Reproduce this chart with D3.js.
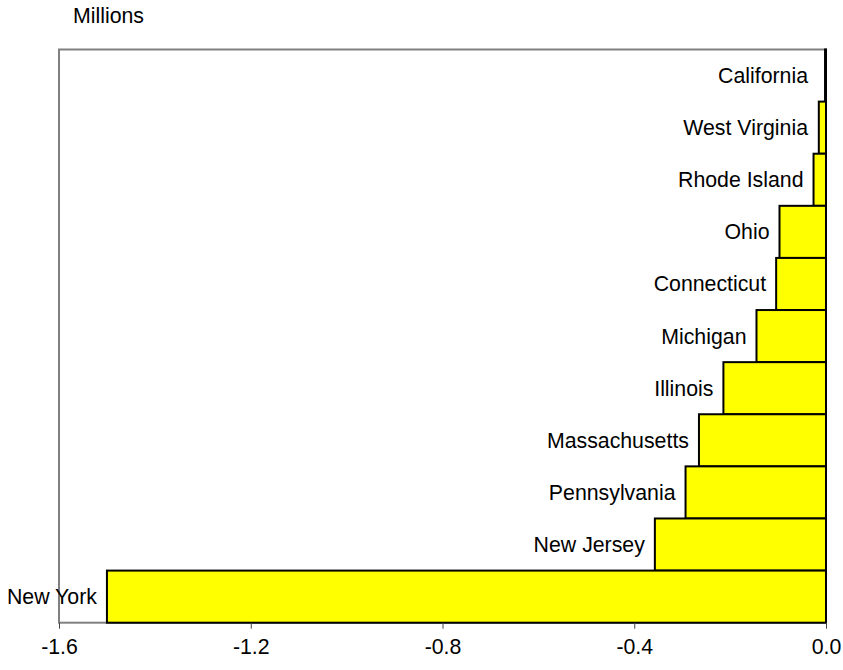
<!DOCTYPE html>
<meta charset="utf-8">
<style>
body { margin: 0; background: #fff; }
text { font-family: "Liberation Sans", Arial, sans-serif; fill: #000; }
</style>
<svg width="843" height="670"></svg>
<script src="https://cdn.jsdelivr.net/npm/d3@7"></script>
<script>

// states, top to bottom
var states = ["California", "West Virginia", "Rhode Island", "Ohio", "Connecticut",
  "Michigan", "Illinois", "Massachusetts", "Pennsylvania", "New Jersey", "New York"];
// change, millions
var values = [-0.002, -0.015, -0.026, -0.097, -0.104, -0.145, -0.214, -0.265, -0.293, -0.357, -1.50];
var xTicks = [-1.6, -1.2, -0.8, -0.4, 0.0];

var svg = d3.select("svg");
var plotLeft = 59, plotRight = 826, plotTop = 49.5, plotBottom = 622.7;
var fontSize = "21.3px";

var x = d3.scaleLinear().domain([-1.6, 0]).range([plotLeft, plotRight]);
var y = d3.scaleBand().domain(states).range([plotTop, plotBottom]).padding(0);

var data = states.map(function (s, i) { return { name: s, value: values[i] }; });

// plot frame
svg.append("rect")
    .attr("x", plotLeft).attr("y", plotTop)
    .attr("width", plotRight - plotLeft).attr("height", plotBottom - plotTop)
    .attr("fill", "none")
    .attr("stroke", "#808080")
    .attr("stroke-width", 2);

// bars
svg.append("g")
  .selectAll("rect")
  .data(data)
  .enter().append("rect")
    .attr("x", function (d) { return x(d.value); })
    .attr("y", function (d) { return y(d.name); })
    .attr("width", function (d) { return x(0) - x(d.value); })
    .attr("height", y.bandwidth())
    .attr("fill", "#ffff00")
    .attr("stroke", "#000")
    .attr("stroke-width", 2);

// labels left of bars
svg.append("g")
  .selectAll("text")
  .data(data)
  .enter().append("text")
    .attr("x", function (d) { return Math.min(x(d.value) - 10, x(0) - 18); })
    .attr("y", function (d) { return y(d.name) + y.bandwidth() / 2; })
    .attr("dy", "0.35em")
    .attr("text-anchor", "end")
    .style("font-size", fontSize)
    .text(function (d) { return d.name; });

// x axis
var axis = svg.append("g")
    .attr("transform", "translate(0," + plotBottom + ")")
    .call(d3.axisBottom(x)
      .tickValues(xTicks)
      .tickSize(6)
      .tickPadding(10)
      .tickFormat(function (d) { return d.toFixed(1); }));
axis.select(".domain").remove();
axis.selectAll("line").attr("stroke", "#444");
axis.selectAll("text")
    .style("font-size", fontSize)
    .attr("font-family", null);

svg.append("text")
    .attr("x", 73)
    .attr("y", 23)
    .style("font-size", fontSize)
    .text("Millions");

</script>
